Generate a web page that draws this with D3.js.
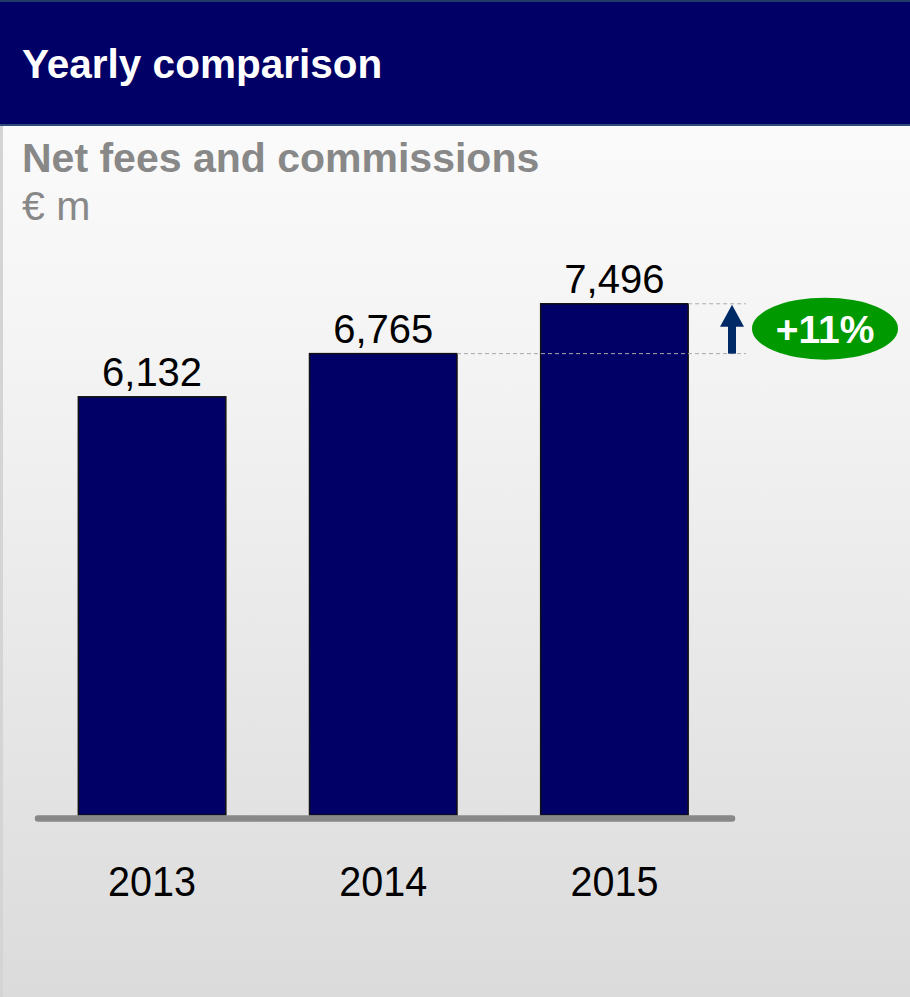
<!DOCTYPE html>
<html>
<head>
<meta charset="utf-8">
<script src="https://cdn.jsdelivr.net/npm/d3@7"></script>
<style>
  html, body { margin: 0; padding: 0; background: #fff; }
  svg { display: block; font-family: "Liberation Sans", Arial, sans-serif; }
</style>
</head>
<body>
<svg id="chart" width="910" height="997"></svg>
<script>
// Net fees and commissions, € m
const years = ["2013", "2014", "2015"];
const netFees = [6132, 6765, 7496];
const growthLabel = "+11%";
const titleText = "Yearly comparison";
const subtitleText = "Net fees and commissions";
const unitText = "€ m";

const W = 910, H = 997;
const svg = d3.select("#chart");
const defs = svg.append("defs");

const bg = defs.append("linearGradient").attr("id", "bg").attr("x1", 0).attr("y1", 0).attr("x2", 0).attr("y2", 1);
bg.append("stop").attr("offset", "0%").attr("stop-color", "#fefefe");
bg.append("stop").attr("offset", "35%").attr("stop-color", "#f4f4f4");
bg.append("stop").attr("offset", "100%").attr("stop-color", "#dbdbdb");

// panel background
svg.append("rect").attr("x", 0).attr("y", 0).attr("width", W).attr("height", H).attr("fill", "url(#bg)");
svg.append("rect").attr("x", 0).attr("y", 0).attr("width", 3).attr("height", H).attr("fill", "#d4d4d4");

// header band
svg.append("rect").attr("x", 0).attr("y", 0).attr("width", W).attr("height", 125).attr("fill", "#000066");
svg.append("rect").attr("x", 0).attr("y", 0).attr("width", W).attr("height", 2).attr("fill", "#1f3b66");
svg.append("rect").attr("x", 0).attr("y", 124).attr("width", W).attr("height", 2).attr("fill", "#2e4a78");
svg.append("text").attr("x", 22).attr("y", 78)
  .attr("fill", "#fff").attr("font-weight", "bold").attr("font-size", 40.5)
  .text(titleText);

svg.append("text").attr("x", 22).attr("y", 172)
  .attr("fill", "#888").attr("font-weight", "bold").attr("font-size", 41)
  .text(subtitleText);
svg.append("text").attr("x", 22).attr("y", 220)
  .attr("fill", "#888").attr("font-size", 41)
  .text(unitText);

// scales
const x = d3.scaleBand().domain(years).range([36.5, 730]).paddingInner(0.362).paddingOuter(0.181);
const y = d3.scaleLinear().domain([0, 8000]).range([815, 269.4]);

const data = years.map((yr, i) => ({ year: yr, value: netFees[i] }));

// bars
svg.append("g").selectAll("rect").data(data).join("rect")
  .attr("x", d => x(d.year))
  .attr("y", d => y(d.value))
  .attr("width", x.bandwidth())
  .attr("height", d => y(0) - y(d.value))
  .attr("fill", "#000066")
  .attr("stroke", "#111")
  .attr("stroke-width", 1.5);

// value labels
svg.append("g").selectAll("text").data(data).join("text")
  .attr("x", d => x(d.year) + x.bandwidth() / 2)
  .attr("y", d => y(d.value) - 11)
  .attr("text-anchor", "middle")
  .attr("font-size", 40)
  .attr("fill", "#000")
  .text(d => d3.format(",")(d.value));

// baseline
svg.append("line")
  .attr("x1", 38).attr("x2", 732)
  .attr("y1", y(0) + 3.5).attr("y2", y(0) + 3.5)
  .attr("stroke", "#888").attr("stroke-width", 6.5).attr("stroke-linecap", "round");

// year labels (slightly condensed)
svg.append("g").selectAll("text").data(data).join("text")
  .attr("transform", d => `translate(${x(d.year) + x.bandwidth() / 2},896) scale(0.92,1)`)
  .attr("text-anchor", "middle")
  .attr("font-size", 43)
  .attr("fill", "#000")
  .text(d => d.year);

// growth marker between the last two years
const prev = data[data.length - 2], last = data[data.length - 1];
const arrowX = 732;
const dashEnd = 746;
svg.append("line")
  .attr("x1", x(last.year) + x.bandwidth()).attr("x2", dashEnd)
  .attr("y1", y(last.value)).attr("y2", y(last.value))
  .attr("stroke", "#aaa").attr("stroke-width", 1).attr("stroke-dasharray", "4,3");
svg.append("line")
  .attr("x1", x(prev.year) + x.bandwidth()).attr("x2", dashEnd)
  .attr("y1", y(prev.value)).attr("y2", y(prev.value))
  .attr("stroke", "#aaa").attr("stroke-width", 1).attr("stroke-dasharray", "4,3");

const yTop = y(last.value), yBot = y(prev.value);
svg.append("rect")
  .attr("x", arrowX - 4).attr("y", yTop + 20)
  .attr("width", 8).attr("height", yBot - yTop - 20)
  .attr("fill", "#002a66");
svg.append("path")
  .attr("d", `M${arrowX},${yTop + 1} L${arrowX + 12},${yTop + 23} L${arrowX - 12},${yTop + 23} Z`)
  .attr("fill", "#002a66");

const cy = (yTop + yBot) / 2;
svg.append("ellipse")
  .attr("cx", 825).attr("cy", cy).attr("rx", 73).attr("ry", 31)
  .attr("fill", "#009900");
svg.append("text")
  .attr("x", 825).attr("y", cy + 14)
  .attr("text-anchor", "middle")
  .attr("fill", "#fff").attr("font-weight", "bold").attr("font-size", 39)
  .text(growthLabel);
</script>
</body>
</html>
